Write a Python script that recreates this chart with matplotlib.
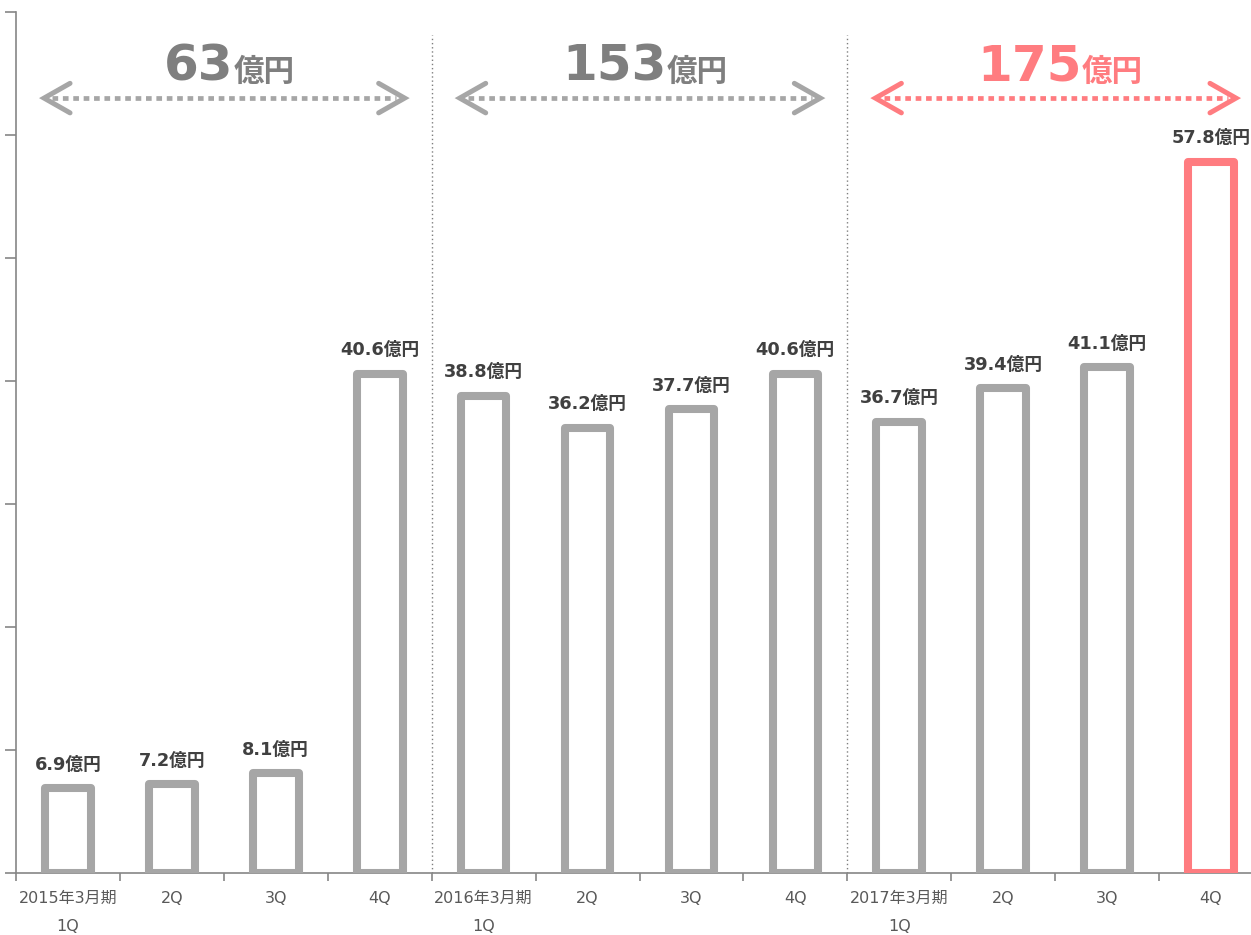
#!/usr/bin/env python3
"""quarterly sales bars with yearly totals"""
import matplotlib
matplotlib.use("Agg")
import matplotlib.pyplot as plt
from matplotlib.offsetbox import TextArea, HPacker, AnnotationBbox

plt.rcParams['font.family'] = ['DejaVu Sans', 'Noto Sans CJK JP']

quarters = ["1Q", "2Q", "3Q", "4Q"] * 3
years = ["2015年3月期", "2016年3月期", "2017年3月期"]
values = [6.9, 7.2, 8.1, 40.6, 38.8, 36.2, 37.7, 40.6, 36.7, 39.4, 41.1, 57.8]
totals = ["63", "153", "175"]

GRAY = "#a6a6a6"
PINK = "#ff7c80"
total_colors = ["#7f7f7f", "#7f7f7f", PINK]
arrow_colors = [GRAY, GRAY, PINK]
CJK = ['Noto Sans CJK JP', 'DejaVu Sans']

fig = plt.figure(figsize=(12.51, 9.35), dpi=100)
# the plot area runs a bit past the right edge, like the source slide
ax = fig.add_axes([16 / 1251, 62 / 935, 1247 / 1251, 861 / 935])

x = list(range(len(values)))
edges = [GRAY] * (len(values) - 1) + [PINK]
ax.bar(x, values, width=0.44, color="white", edgecolor=edges,
       linewidth=5.8, joinstyle="round", zorder=3)

for xi, v in zip(x, values):
    ax.annotate("{}億円".format(v), (xi, v), xytext=(0, 17),
                textcoords="offset points", ha="center", va="center",
                fontsize=12.8, fontweight="bold", color="#404040")

# group separators
for b in [3.5, 7.5]:
    ax.plot([b, b], [0, 68.1], color="#7f7f7f", lw=1, ls=(0, (1, 2)),
            zorder=2)

# yearly totals with double arrows
for g in range(3):
    start = g * 4 - 0.5
    c = arrow_colors[g]
    x0, x1 = start + 0.27, start + 3.74
    ax.plot([x0 + 0.08, x1 - 0.08], [63, 63], color=c, lw=3.4,
            ls=(0, (1.2, 1.0)), solid_capstyle="butt", dash_capstyle="butt")
    ax.plot([x0 + 0.25, x0, x0 + 0.25], [64.2, 63, 61.8], color=c, lw=3.6,
            solid_capstyle="round", solid_joinstyle="miter")
    ax.plot([x1 - 0.25, x1, x1 - 0.25], [64.2, 63, 61.8], color=c, lw=3.6,
            solid_capstyle="round", solid_joinstyle="miter")
    big = TextArea(totals[g], textprops=dict(fontsize=36, fontweight="bold",
                                             color=total_colors[g]))
    small = TextArea("億円", textprops=dict(fontsize=22, fontweight="bold",
                                           color=total_colors[g],
                                           family=CJK))
    box = HPacker(children=[big, small], align="baseline", pad=0, sep=0)
    ab = AnnotationBbox(box, (start + 2.05, 63.6), box_alignment=(0.5, 0),
                        frameon=False, pad=0)
    ax.add_artist(ab)

ax.set_xlim(-0.5, 11.5)
ax.set_ylim(0, 70)
ax.set_yticks(range(0, 71, 10))
ax.set_yticklabels([])

labels = []
for i, q in enumerate(quarters):
    if i % 4 == 0:
        labels.append(years[i // 4] + "\n" + q)
    else:
        labels.append(q)
ax.set_xticks(x)
ax.set_xticklabels(labels, fontsize=11.5, color="#595959")
for t in ax.get_xticklabels():
    t.set_linespacing(2.1)
ax.set_xticks([i - 0.5 for i in range(12)], minor=True)
ax.tick_params(axis="x", which="major", length=0, pad=13)
ax.tick_params(axis="x", which="minor", length=6, color="#868686", width=1.2)
ax.tick_params(axis="y", length=8, color="#868686", width=1.2)

for s in ["top", "right"]:
    ax.spines[s].set_visible(False)
for s in ["left", "bottom"]:
    ax.spines[s].set_color("#868686")
    ax.spines[s].set_linewidth(1.2)

fig.savefig("out.png", dpi=100)
